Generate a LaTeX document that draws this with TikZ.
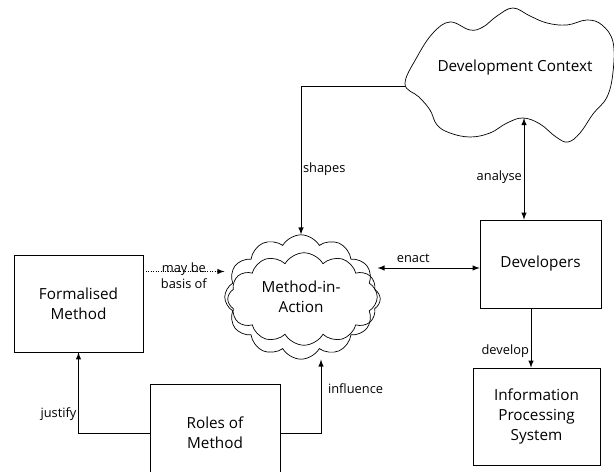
\documentclass[tikz,border=0pt]{standalone}
\usepackage{fontspec}
\setmainfont{Open Sans}
\usetikzlibrary{arrows}
\usetikzlibrary{shapes.symbols}
\usetikzlibrary{calc}

\begin{document}
\begin{tikzpicture}[x=0.02cm,y=-0.02cm,>=latex,
		box/.style={draw,rectangle,align=center,font=\fontsize{8.7}{11.5}\selectfont},
		puffy/.style={cloud,draw,cloud puffs=12,cloud puff arc=120,minimum width=3.05cm,minimum height=1.85cm,inner sep=0pt},
		lbl/.style={font=\fontsize{7.3}{9}\selectfont,inner sep=1pt}]
		\useasboundingbox (0,0) rectangle (614,472);
		% development context blob
		\draw plot[smooth cycle,tension=0.65] coordinates {
			(405,84) (417,57) (433,33) (450,22) (470,30) (483,27) (497,16) (513,8)
			(530,16) (547,23) (567,25) (587,20) (602,25) (613,42) (613,72) (607,97)
			(593,114) (580,133) (568,142) (556,137) (540,124) (523,118) (507,123)
			(490,133) (470,137) (450,133) (437,125) (430,110) (419,97)};
		\node (ctx) at (515,68) [font=\fontsize{8.7}{11.5}\selectfont] {Development Context};
		\coordinate (ctxL) at (405,86);
		\coordinate (ctxB) at (524,118);
		% method in action cloud
		\node (miaback) at (304,299) [puffy,shape border rotate=14] {};
		\node (mia) at (301,297) [puffy,align=center,
			font=\fontsize{8.7}{11.5}\selectfont] {Method-in-\\Action};
		% boxes
		\node (fm) at (78.5,303.5) [box,minimum width=2.58cm,minimum height=1.94cm] {Formalised\\Method};
		\node (dev) at (540.5,264) [box,minimum width=2.42cm,minimum height=1.76cm] {Developers};
		\node (ips) at (536.5,416.5) [box,minimum width=2.54cm,minimum height=1.94cm] {Information\\Processing\\System};
		\node (rom) at (215,433) [box,minimum width=2.6cm,minimum height=1.96cm] {Roles of\\Method};
		% connectors
		\draw[->] (ctxL) -| (mia.north) node[lbl,pos=0.78,anchor=west] {shapes};
		\draw[<->] (ctxB) -- (ctxB |- dev.north) node[lbl,pos=0.58,anchor=east] {analyse};
		\draw[<->] ([yshift=-0.08cm]dev.west -| mia.east) -- ([yshift=-0.08cm]dev.west)
			node[lbl,pos=0.35,above=2pt] {enact};
		\draw[->,densely dotted] ([yshift=0.64cm]fm.east) -- ([yshift=0.64cm]fm.east -| mia.west)
			node[lbl,midway,align=center,anchor=north,yshift=0.22cm] {may be\\basis of};
		\draw[->] ([xshift=-0.19cm]dev.south) -- ([xshift=-0.19cm]dev.south |- ips.north)
			node[lbl,pos=0.72,anchor=east] {develop};
		\draw[->] (rom.west) -| (fm.south) node[lbl,pos=0.62,anchor=east] {justify};
		\draw[->] (rom.east) -| ([xshift=0.4cm]mia.south) node[lbl,pos=0.8,anchor=west,xshift=0.1cm] {influence};
\end{tikzpicture}
\end{document}
